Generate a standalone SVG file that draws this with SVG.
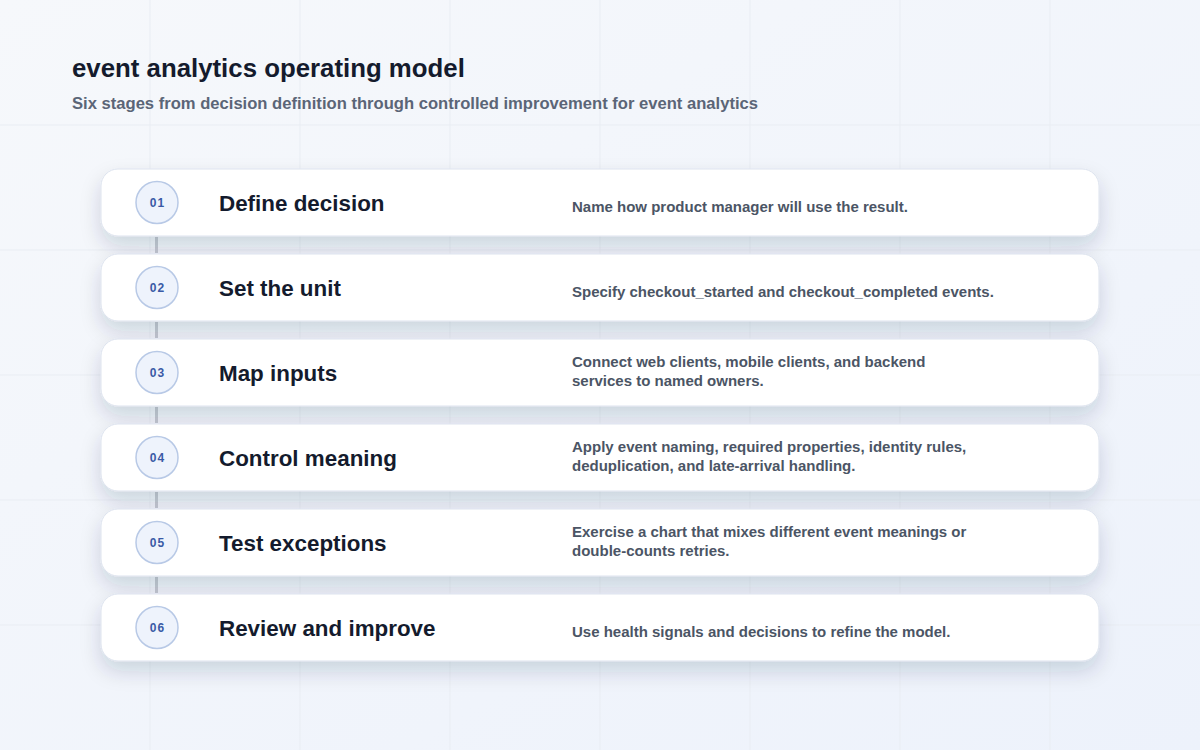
<svg xmlns="http://www.w3.org/2000/svg" width="1200" height="750" viewBox="0 0 1200 750">
  <defs>
    <linearGradient id="bg" x1="0" y1="0" x2="1" y2="1">
      <stop offset="0" stop-color="#f6f8fb"/>
      <stop offset="1" stop-color="#edf2fb"/>
    </linearGradient>
    <filter id="shadow" x="-10%" y="-60%" width="120%" height="220%">
      <feDropShadow dx="0" dy="10" stdDeviation="10" flood-color="#1e2b4f" flood-opacity="0.16"/>
    </filter>
    <style>
      .grid line { stroke: #e9edf3; stroke-width: 1; }
      .card { fill: #ffffff; stroke: #dde3ee; stroke-width: 1; filter: url(#shadow); }
      .badge { fill: #eef3fc; stroke: #b8c9e6; stroke-width: 1.5; }
      .num { font-family: "Liberation Sans", Arial, sans-serif; font-weight: 700; font-size: 12px; fill: #3a5aa6; letter-spacing: 1px; text-anchor: middle; }
      .title { font-family: "Liberation Sans", Arial, sans-serif; font-weight: 700; font-size: 22.4px; fill: #141b2d; }
      .desc { font-family: "Liberation Sans", Arial, sans-serif; font-weight: 700; font-size: 15px; fill: #4b5565; }
      .conn { stroke: #c6cad2; stroke-width: 3; }
    </style>
  </defs>
  <rect x="0" y="0" width="1200" height="750" fill="url(#bg)"/>
  <g class="grid">
    <line x1="150" y1="0" x2="150" y2="750"/>
    <line x1="300" y1="0" x2="300" y2="750"/>
    <line x1="450" y1="0" x2="450" y2="750"/>
    <line x1="600" y1="0" x2="600" y2="750"/>
    <line x1="750" y1="0" x2="750" y2="750"/>
    <line x1="900" y1="0" x2="900" y2="750"/>
    <line x1="1050" y1="0" x2="1050" y2="750"/>
    <line x1="0" y1="125" x2="1200" y2="125"/>
    <line x1="0" y1="250" x2="1200" y2="250"/>
    <line x1="0" y1="375" x2="1200" y2="375"/>
    <line x1="0" y1="500" x2="1200" y2="500"/>
    <line x1="0" y1="625" x2="1200" y2="625"/>
  </g>
  <g id="header">
    <text x="72" y="77" font-family="Liberation Sans, Arial, sans-serif" font-weight="700" font-size="25.8" fill="#141b2d">event analytics operating model</text>
    <text x="72" y="109" font-family="Liberation Sans, Arial, sans-serif" font-weight="700" font-size="16.6" fill="#5b6577">Six stages from decision definition through controlled improvement for event analytics</text>
  </g>
  <g id="connectors">
    <line class="conn" x1="156.5" y1="237" x2="156.5" y2="253"/>
    <line class="conn" x1="156.5" y1="322" x2="156.5" y2="338"/>
    <line class="conn" x1="156.5" y1="407" x2="156.5" y2="423"/>
    <line class="conn" x1="156.5" y1="492" x2="156.5" y2="508"/>
    <line class="conn" x1="156.5" y1="577" x2="156.5" y2="593"/>
  </g>
  <g id="stage1">
    <rect class="card" x="101" y="169" width="998" height="67" rx="17"/>
    <circle class="badge" cx="157" cy="202.5" r="21"/>
    <text class="num" x="157.5" y="207">01</text>
    <text class="title" x="219" y="211">Define decision</text>
    <text class="desc" x="572" y="212">Name how product manager will use the result.</text>
  </g>
  <g id="stage2">
    <rect class="card" x="101" y="254" width="998" height="67" rx="17"/>
    <circle class="badge" cx="157" cy="287.5" r="21"/>
    <text class="num" x="157.5" y="292">02</text>
    <text class="title" x="219" y="296">Set the unit</text>
    <text class="desc" x="572" y="297">Specify checkout_started and checkout_completed events.</text>
  </g>
  <g id="stage3">
    <rect class="card" x="101" y="339" width="998" height="67" rx="17"/>
    <circle class="badge" cx="157" cy="372.5" r="21"/>
    <text class="num" x="157.5" y="377">03</text>
    <text class="title" x="219" y="381">Map inputs</text>
    <text class="desc" x="572" y="367">Connect web clients, mobile clients, and backend</text>
    <text class="desc" x="572" y="386">services to named owners.</text>
  </g>
  <g id="stage4">
    <rect class="card" x="101" y="424" width="998" height="67" rx="17"/>
    <circle class="badge" cx="157" cy="457.5" r="21"/>
    <text class="num" x="157.5" y="462">04</text>
    <text class="title" x="219" y="466">Control meaning</text>
    <text class="desc" x="572" y="452">Apply event naming, required properties, identity rules,</text>
    <text class="desc" x="572" y="471">deduplication, and late-arrival handling.</text>
  </g>
  <g id="stage5">
    <rect class="card" x="101" y="509" width="998" height="67" rx="17"/>
    <circle class="badge" cx="157" cy="542.5" r="21"/>
    <text class="num" x="157.5" y="547">05</text>
    <text class="title" x="219" y="551">Test exceptions</text>
    <text class="desc" x="572" y="537">Exercise a chart that mixes different event meanings or</text>
    <text class="desc" x="572" y="556">double-counts retries.</text>
  </g>
  <g id="stage6">
    <rect class="card" x="101" y="594" width="998" height="67" rx="17"/>
    <circle class="badge" cx="157" cy="627.5" r="21"/>
    <text class="num" x="157.5" y="632">06</text>
    <text class="title" x="219" y="636">Review and improve</text>
    <text class="desc" x="572" y="637">Use health signals and decisions to refine the model.</text>
  </g>
</svg>
